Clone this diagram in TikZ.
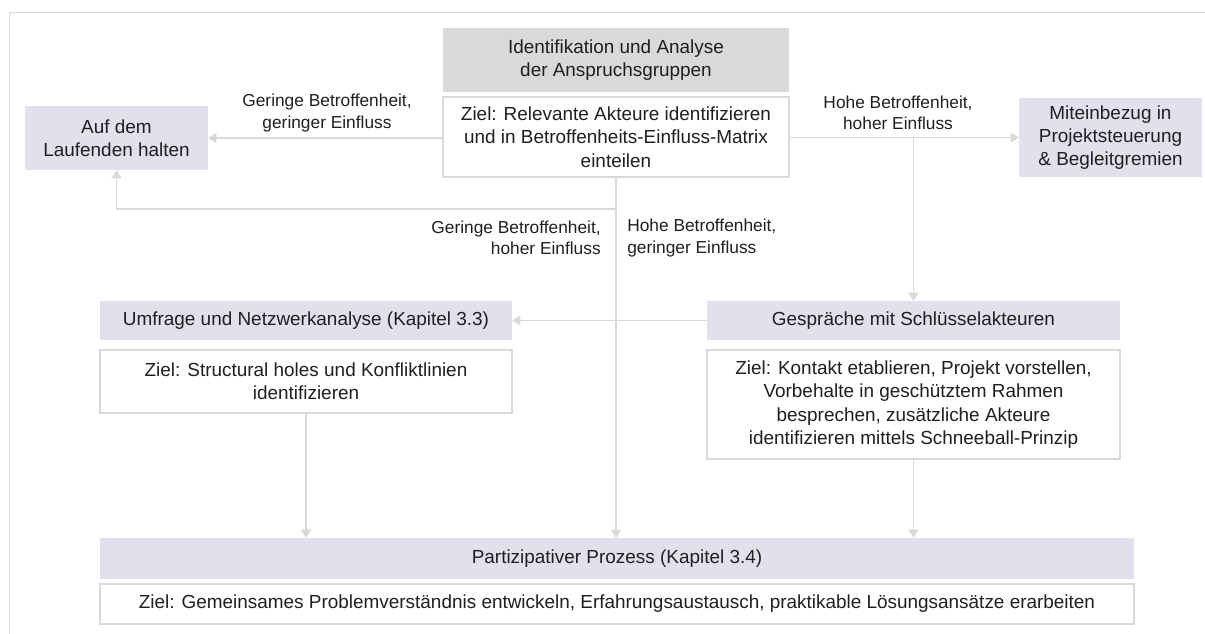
\documentclass[tikz,border=0pt]{standalone}
\usepackage{fontspec}
\setmainfont{Liberation Sans}
\usetikzlibrary{arrows.meta,positioning}

\definecolor{lila}{HTML}{E4DFEC}
\definecolor{kopfgrau}{HTML}{D9D9D9}
\definecolor{strich}{HTML}{D9D9D9}
\newcommand{\px}{0.75pt}

\tikzset{
    feld/.style={inner sep=0pt, align=center, text=black!88,
        font=\fontsize{14.2}{17.5}\selectfont},
    kopf/.style={feld, fill=lila},
    zielfeld/.style={feld, fill=white, draw=strich, line width=1.5*\px},
    marke/.style={inner sep=0pt, text=black!88, font=\fontsize{13}{15.8}\selectfont},
    pfeil/.style={draw=strich, line width=1.5*\px, -{Triangle[length=8*\px, width=10*\px]}},
}

\begin{document}
\begin{tikzpicture}[x=\px, y=-\px]
        \useasboundingbox (0, 0) rectangle (1205, 634);
        \draw[strich, line width=1.5*\px] (9.5, 634) -- (9.5, 12.5) -- (1205, 12.5);

        \node[kopf, fill=kopfgrau, minimum width=346*\px, minimum height=64*\px] (ident) at (616, 60)
            {Identifikation und Analyse\\der Anspruchsgruppen};
        \node[zielfeld, minimum width=346*\px, minimum height=80*\px] (identziel) at (616, 137)
            {Ziel: Relevante Akteure identifizieren\\und in Betroffenheits-Einfluss-Matrix\\einteilen};

        \node[kopf, minimum width=183*\px, minimum height=64*\px] (laufend) at (116.5, 138)
            {Auf dem\\Laufenden halten};
        \node[kopf, minimum width=183*\px, minimum height=79*\px] (mitein) at (1110.5, 137.5)
            {Miteinbezug in\\Projektsteuerung\\\& Begleitgremien};

        \node[kopf, minimum width=412*\px, minimum height=39*\px] (umfrage) at (306, 320.5)
            {Umfrage und Netzwerkanalyse (Kapitel 3.3)};
        \node[zielfeld, minimum width=412*\px, minimum height=63*\px] (umfrageziel) at (306, 381.5)
            {Ziel: Structural holes und Konfliktlinien\\identifizieren};

        \node[kopf, minimum width=413*\px, minimum height=39*\px] (gespraech) at (913.5, 320.5)
            {Gespräche mit Schlüsselakteuren};
        \node[zielfeld, minimum width=413*\px, minimum height=109*\px] (gespraechziel) at (913.5, 404.5)
            {Ziel: Kontakt etablieren, Projekt vorstellen,\\Vorbehalte in geschütztem Rahmen\\besprechen, zusätzliche Akteure\\identifizieren mittels Schneeball-Prinzip};

        \node[kopf, minimum width=1034*\px, minimum height=41*\px] (partizip) at (617, 558.5)
            {Partizipativer Prozess (Kapitel 3.4)};
        \node[zielfeld, minimum width=1034*\px, minimum height=40*\px] (partziel) at (617, 604)
            {Ziel: Gemeinsames Problemverständnis entwickeln, Erfahrungsaustausch, praktikable Lösungsansätze erarbeiten};

        \draw[pfeil] (identziel.west |- laufend.east) -- (laufend.east);
        \draw[pfeil] (identziel.east |- mitein.west) -- (mitein.west);
        \draw[pfeil] (gespraech.north |- mitein.west) -- (gespraech.north);
        \draw[pfeil] (identziel.south) -- (identziel.south |- partizip.north);

        \coordinate (knick) at (616, 209);
        \draw[pfeil] (knick) -- (knick -| laufend.south) -- (laufend.south);

        \draw[pfeil] (gespraech.west) -- (umfrage.east);
        \draw[pfeil] (umfrageziel.south) -- (umfrageziel.south |- partizip.north);
        \draw[pfeil] (gespraechziel.south) -- (gespraechziel.south |- partizip.north);

        \node[marke, align=center] (gering) at (327, 113) {Geringe Betroffenheit,\\geringer Einfluss};
        \node[marke, align=center] (hoch) at (898, 113) {Hohe Betroffenheit,\\hoher Einfluss};
        \node[marke, align=right, anchor=east] (geringhoch) at (601, 238) {Geringe Betroffenheit,\\hoher Einfluss};
        \node[marke, align=left, anchor=west] (hochgering) at (627, 238) {Hohe Betroffenheit,\\geringer Einfluss};
    \end{tikzpicture}
\end{document}
